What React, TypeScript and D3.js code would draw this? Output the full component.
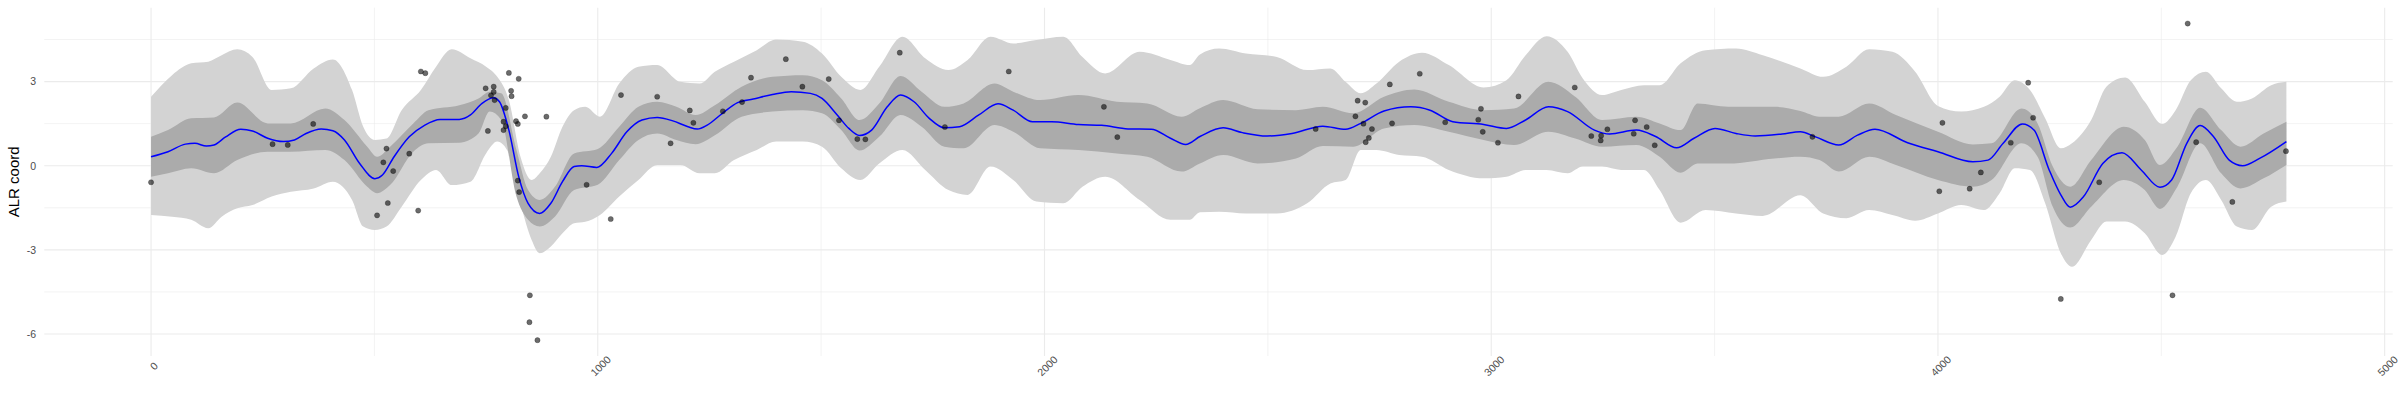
import React, { useEffect, useRef } from "react";
import * as d3 from "d3";

// observed points
const obsX = [
  0, 272, 306, 363, 506, 520, 527, 530, 542, 578, 598, 604, 614, 749, 754, 761, 767, 767, 769, 789, 789, 794,
  794, 801, 806, 807, 817, 821, 823, 821, 824, 837, 848, 847, 865, 885, 975, 1029, 1052, 1133, 1163, 1206,
  1214, 1280, 1323, 1343, 1421, 1458, 1517, 1540, 1581, 1599, 1676, 1777, 1920, 2133, 2163, 2607, 2696,
  2701, 2718, 2714, 2733, 2726, 2719, 2773, 2778, 2840, 2897, 2977, 2971, 2981, 3015, 3061, 3187, 3224,
  3245, 3246, 3260, 3319, 3322, 3348, 3366, 3719, 4010, 4003, 4071, 4096, 4163, 4202, 4213, 4275, 4361,
  4525, 4559, 4578, 4659, 4779,
];
const obsY = [
  -0.59, 0.77, 0.74, 1.49, -1.77, 0.12, 0.61, -1.33, -0.19, 0.43, -1.6, 3.36, 3.3, 2.76, 1.24, 2.51, 2.82,
  2.63, 2.34, 1.57, 1.27, 1.41, 2.06, 3.31, 2.67, 2.48, 1.59, 1.49, 3.1, -0.53, -0.94, 1.76, -4.62, -5.58,
  -6.22, 1.75, -0.68, -1.9, 2.52, 2.46, 0.8, 1.97, 1.53, 1.94, 2.27, 3.14, 3.8, 2.82, 3.09, 1.62, 0.95, 0.94,
  4.03, 1.38, 3.36, 2.1, 1.02, 1.31, 1.76, 2.32, 2.25, 1.5, 1.31, 0.99, 0.84, 2.9, 1.51, 3.28, 1.55, 2.03,
  1.64, 1.21, 0.82, 2.47, 2.79, 1.06, 0.9, 1.07, 1.3, 1.14, 1.62, 1.38, 0.73, 1.03, 1.53, -0.91, -0.82,
  -0.24, 0.82, 2.96, 1.71, -4.75, -0.59, -4.62, 5.07, 0.84, -1.29, 0.52,
];

// posterior mean
const meanX = [
  0, 38, 77, 98, 124, 141, 167, 201, 227, 261, 296, 321, 347, 381, 407, 433, 467, 501, 518, 544, 578, 613,
  647, 690, 715, 741, 767, 780, 801, 823, 844, 870, 895, 921, 947, 964, 998, 1031, 1065, 1099, 1133, 1168,
  1202, 1223, 1245, 1279, 1313, 1348, 1391, 1433, 1476, 1502, 1536, 1562, 1586, 1613, 1648, 1678, 1708,
  1742, 1776, 1810, 1853, 1896, 1930, 1973, 2016, 2076, 2128, 2187, 2239, 2282, 2316, 2349, 2400, 2443,
  2498, 2554, 2623, 2674, 2708, 2760, 2820, 2863, 2914, 2983, 3034, 3077, 3128, 3171, 3231, 3265, 3325,
  3368, 3415, 3454, 3501, 3548, 3591, 3651, 3692, 3726, 3778, 3820, 3859, 3932, 4000, 4078, 4112, 4146,
  4189, 4215, 4249, 4275, 4296, 4326, 4369, 4412, 4455, 4497, 4523, 4557, 4587, 4617, 4652, 4682, 4720,
  4780,
];
const meanY = [
  0.32, 0.5, 0.77, 0.8, 0.7, 0.74, 1.03, 1.3, 1.24, 0.98, 0.86, 0.92, 1.15, 1.31, 1.25, 0.92, 0.08, -0.46,
  -0.33, 0.32, 1.03, 1.45, 1.65, 1.65, 1.81, 2.22, 2.42, 2.28, 1.27, -0.39, -1.34, -1.7, -1.34, -0.57,
  -0.03, 0.0, -0.06, 0.44, 1.21, 1.63, 1.72, 1.6, 1.39, 1.31, 1.45, 1.87, 2.25, 2.38, 2.54, 2.64, 2.58,
  2.4, 1.81, 1.33, 1.08, 1.27, 2.1, 2.52, 2.28, 1.69, 1.35, 1.39, 1.81, 2.21, 1.98, 1.57, 1.57, 1.47, 1.44,
  1.31, 1.3, 0.98, 0.76, 1.05, 1.35, 1.18, 1.06, 1.15, 1.41, 1.3, 1.51, 1.95, 2.1, 1.98, 1.57, 1.47, 1.33,
  1.63, 2.1, 1.93, 1.27, 1.13, 1.27, 1.04, 0.64, 0.98, 1.33, 1.15, 1.06, 1.13, 1.21, 1.03, 0.74, 1.09, 1.3,
  0.82, 0.5, 0.14, 0.2, 0.8, 1.49, 1.27, -0.15, -1.04, -1.48, -1.1, 0.08, 0.46, -0.15, -0.77, -0.51, 0.8,
  1.43, 1.03, 0.2, 0.0, 0.26, 0.86,
];

// inner interval
const innerX = [
  0, 38, 90, 141, 193, 261, 313, 390, 433, 484, 506, 535, 587, 621, 690, 733, 758, 784, 818, 844, 870, 904,
  947, 1000, 1048, 1091, 1133, 1176, 1219, 1262, 1322, 1391, 1459, 1502, 1545, 1586, 1630, 1678, 1725,
  1776, 1819, 1888, 1930, 1990, 2076, 2162, 2230, 2307, 2348, 2400, 2477, 2563, 2623, 2691, 2760, 2828,
  2905, 2983, 3051, 3128, 3188, 3248, 3325, 3377, 3424, 3462, 3531, 3634, 3692, 3735, 3778, 3846, 3906,
  4000, 4078, 4120, 4187, 4223, 4257, 4296, 4343, 4416, 4463, 4497, 4536, 4587, 4634, 4677, 4729, 4780,
];
const innerLo = [
  -0.39, -0.27, -0.09, -0.27, 0.2, 0.5, 0.5, 0.56, 0.2, -0.75, -0.98, -0.69, 0.5, 0.8, 0.82, 1.15, 1.93,
  1.63, -1.1, -1.93, -2.17, -1.82, -0.87, -0.68, 0.2, 0.92, 1.15, 0.92, 0.77, 1.09, 1.75, 1.93, 1.98, 1.87,
  1.27, 0.54, 1.03, 1.81, 1.39, 0.68, 0.62, 1.45, 1.21, 0.62, 0.56, 0.44, 0.32, -0.21, 0.08, 0.38, 0.08,
  0.26, 0.7, 0.68, 1.33, 1.45, 1.21, 0.92, 0.74, 1.21, 0.97, 0.68, 0.74, 0.32, -0.25, 0.08, 0.08, 0.26,
  0.32, 0.2, -0.21, 0.32, 0.03, -0.51, -0.75, -0.51, 0.8, 0.32, -1.46, -2.2, -1.46, -0.51, -0.87, -1.54,
  -0.75, 0.8, -0.27, -0.81, -0.45, 0.03,
];
const innerHi = [
  1.03, 1.27, 1.69, 1.72, 2.25, 1.51, 1.51, 2.04, 1.63, 0.68, 0.32, 0.68, 1.51, 1.98, 2.16, 2.4, 2.64, 2.58,
  0.56, -0.87, -1.22, -0.75, 0.44, 0.6, 1.39, 2.1, 2.28, 2.1, 1.81, 2.16, 2.82, 3.17, 3.23, 3.05, 2.4, 1.63,
  2.22, 3.2, 2.64, 2.1, 2.22, 2.93, 2.64, 2.34, 2.52, 2.28, 2.22, 1.75, 2.05, 2.34, 2.01, 1.98, 2.1, 1.87,
  2.46, 2.72, 2.28, 1.98, 2.04, 2.99, 2.46, 1.63, 1.75, 1.51, 1.27, 2.22, 2.1, 2.1, 1.95, 1.75, 1.75, 2.22,
  1.81, 1.21, 0.76, 0.8, 2.04, 1.51, -0.03, -0.75, 0.2, 1.39, 0.92, 0.03, 0.68, 2.07, 1.27, 0.68, 1.15,
  1.57,
];

// outer interval
const outerX = [
  0, 47, 90, 128, 158, 193, 227, 270, 313, 364, 407, 450, 475, 501, 527, 561, 604, 638, 673, 715, 750, 775,
  801, 827, 852, 870, 895, 921, 947, 972, 1005, 1048, 1091, 1133, 1185, 1228, 1262, 1305, 1356, 1399, 1459,
  1502, 1545, 1588, 1630, 1682, 1733, 1785, 1828, 1879, 1930, 1982, 2042, 2085, 2136, 2213, 2282, 2325,
  2348, 2391, 2451, 2520, 2588, 2640, 2674, 2708, 2743, 2794, 2845, 2905, 2983, 3034, 3077, 3124, 3171,
  3205, 3248, 3291, 3342, 3377, 3424, 3480, 3548, 3608, 3692, 3743, 3795, 3846, 3898, 3949, 4000, 4052,
  4103, 4138, 4172, 4206, 4240, 4275, 4300, 4343, 4377, 4419, 4463, 4502, 4532, 4566, 4600, 4634, 4669,
  4703, 4746, 4780,
];
const outerLo = [
  -1.76, -1.82, -1.93, -2.23, -1.82, -1.52, -1.4, -1.1, -0.93, -0.81, -0.57, -1.22, -2.17, -2.29, -2.17,
  -1.46, -0.51, -0.15, -0.69, -0.57, 0.44, 0.86, 0.44, -1.34, -2.65, -3.12, -2.88, -2.41, -2.05, -2.0,
  -1.76, -1.1, -0.51, 0.03, 0.03, -0.27, -0.27, 0.2, 0.56, 0.86, 0.86, 0.68, -0.09, -0.51, 0.08, 0.56,
  -0.15, -0.87, -1.04, -0.03, -0.51, -1.28, -1.34, -0.75, -0.39, -1.22, -1.93, -1.93, -1.66, -1.64, -1.7,
  -1.7, -1.34, -0.63, -0.51, 0.56, 0.56, 0.38, 0.32, -0.15, -0.45, -0.39, -0.15, -0.15, -0.27, -0.03,
  -0.03, -0.15, -0.15, -0.87, -2.03, -1.58, -1.7, -1.79, -1.05, -1.7, -1.87, -1.58, -1.76, -1.96, -1.7,
  -1.4, -1.58, -0.98, -0.09, -0.15, -1.34, -3.12, -3.6, -2.65, -1.99, -1.99, -2.41, -3.18, -2.53, -0.98,
  -0.51, -1.22, -2.17, -2.29, -1.46, -1.28,
];
const outerHi = [
  2.46, 3.23, 3.65, 3.71, 3.94, 4.15, 3.88, 2.7, 2.76, 3.47, 3.79, 2.7, 1.39, 0.92, 0.97, 1.98, 2.7, 3.53,
  4.15, 3.83, 3.53, 3.17, 2.34, 0.32, -0.51, -0.27, 0.32, 1.39, 1.98, 2.1, 1.75, 2.93, 3.53, 3.59, 2.99,
  2.93, 3.35, 3.71, 4.12, 4.5, 4.42, 4.0, 3.17, 2.7, 3.53, 4.6, 3.83, 3.41, 3.77, 4.6, 4.36, 4.48, 4.6,
  3.88, 3.29, 4.06, 3.77, 3.59, 3.97, 4.18, 4.0, 3.88, 3.41, 3.47, 2.99, 2.58, 2.93, 3.71, 4.03, 3.59,
  2.79, 3.05, 3.94, 4.62, 4.06, 3.11, 2.52, 2.7, 2.87, 2.87, 3.65, 4.12, 4.18, 3.94, 3.47, 3.17, 3.53,
  4.15, 4.06, 3.35, 2.13, 1.93, 2.1, 2.46, 3.05, 2.7, 1.69, 0.62, 0.8, 1.63, 2.82, 3.15, 2.28, 1.49, 1.98,
  3.05, 3.35, 2.76, 2.28, 2.4, 2.87, 2.99,
];

const xMajor = [0, 1000, 2000, 3000, 4000, 5000];
const xMinor = [500, 1500, 2500, 3500, 4500];
const yMajor = [-6, -3, 0, 3];
const yMinor = [-4.5, -1.5, 1.5, 4.5];
const yTitle = "ALR coord";

const App = () => {
  const svgRef = useRef(null);

  useEffect(() => {
    document.body.style.margin = "0";
    const svg = d3.select(svgRef.current);
    svg.selectAll("*").remove();

    const width = 2400,
      height = 400;
    const margin = { top: 7.7, right: 7.3, bottom: 44, left: 44.3 };
    const font = "'Liberation Sans', Arial, Helvetica, sans-serif";

    // ggplot style 5% expansion
    const xExt: any = d3.extent(obsX);
    const yExt: any = d3.extent(obsY);
    const xPad = (xExt[1] - xExt[0]) * 0.05;
    const yPad = (yExt[1] - yExt[0]) * 0.05;

    const x = d3
      .scaleLinear()
      .domain([xExt[0] - xPad, xExt[1] + xPad])
      .range([margin.left, width - margin.right]);
    const y = d3
      .scaleLinear()
      .domain([yExt[0] - yPad, yExt[1] + yPad])
      .range([height - margin.bottom, margin.top]);

    const top = margin.top,
      bottom = height - margin.bottom;

    // grid
    const grid = svg.append("g");
    grid
      .selectAll("line.ymin")
      .data(yMinor)
      .join("line")
      .attr("x1", margin.left)
      .attr("x2", width - margin.right)
      .attr("y1", (d) => y(d))
      .attr("y2", (d) => y(d))
      .style("stroke", "#EBEBEB")
      .style("stroke-width", 0.6);
    grid
      .selectAll("line.xmin")
      .data(xMinor)
      .join("line")
      .attr("x1", (d) => x(d))
      .attr("x2", (d) => x(d))
      .attr("y1", top)
      .attr("y2", bottom)
      .style("stroke", "#EBEBEB")
      .style("stroke-width", 0.6);
    grid
      .selectAll("line.ymaj")
      .data(yMajor)
      .join("line")
      .attr("x1", margin.left)
      .attr("x2", width - margin.right)
      .attr("y1", (d) => y(d))
      .attr("y2", (d) => y(d))
      .style("stroke", "#EBEBEB")
      .style("stroke-width", 1.1);
    grid
      .selectAll("line.xmaj")
      .data(xMajor)
      .join("line")
      .attr("x1", (d) => x(d))
      .attr("x2", (d) => x(d))
      .attr("y1", top)
      .attr("y2", bottom)
      .style("stroke", "#EBEBEB")
      .style("stroke-width", 1.1);

    // bands
    const outerArea: any = d3
      .area()
      .x((d: any) => x(d[0]))
      .y0((d: any) => y(d[1]))
      .y1((d: any) => y(d[2]))
      .curve(d3.curveMonotoneX);
    svg
      .append("path")
      .datum(outerX.map((v, i) => [v, outerLo[i], outerHi[i]]))
      .attr("d", outerArea)
      .style("fill", "#D3D3D3");
    svg
      .append("path")
      .datum(innerX.map((v, i) => [v, innerLo[i], innerHi[i]]))
      .attr("d", outerArea)
      .style("fill", "#ABABAB");

    // mean line
    const line: any = d3
      .line()
      .x((d: any) => x(d[0]))
      .y((d: any) => y(d[1]))
      .curve(d3.curveMonotoneX);
    svg
      .append("path")
      .datum(meanX.map((v, i) => [v, meanY[i]]))
      .attr("d", line)
      .style("fill", "none")
      .style("stroke", "#0000FF")
      .style("stroke-width", 1.5);

    // points
    svg
      .append("g")
      .selectAll("circle")
      .data(obsX.map((v, i) => [v, obsY[i]]))
      .join("circle")
      .attr("cx", (d) => x(d[0]))
      .attr("cy", (d) => y(d[1]))
      .attr("r", 2.6)
      .style("fill", "#000")
      .style("fill-opacity", 0.58)
      .style("stroke", "#000")
      .style("stroke-opacity", 0.3)
      .style("stroke-width", 0.8);

    // y tick labels
    svg
      .append("g")
      .selectAll("text")
      .data(yMajor)
      .join("text")
      .attr("x", 36)
      .attr("y", (d) => y(d))
      .attr("dy", "0.36em")
      .style("text-anchor", "end")
      .style("font-family", font)
      .style("font-size", "10.5px")
      .style("fill", "#4D4D4D")
      .text((d) => String(d));

    // x tick labels, rotated 45
    svg
      .append("g")
      .selectAll("text")
      .data(xMajor)
      .join("text")
      .attr("transform", (d) => "translate(" + x(d) + "," + (bottom + 7) + ") rotate(-45)")
      .attr("dy", "0.75em")
      .style("text-anchor", "middle")
      .style("font-family", font)
      .style("font-size", "10.5px")
      .style("fill", "#4D4D4D")
      .text((d) => String(d));

    // axis title
    svg
      .append("text")
      .attr("transform", "translate(19," + (top + bottom) / 2 + ") rotate(-90)")
      .style("text-anchor", "middle")
      .style("font-family", font)
      .style("font-size", "15px")
      .style("fill", "#000")
      .text(yTitle);
  }, []);

  return (
    <div style={{ width: 2400, height: 400 }}>
      <svg ref={svgRef} width={2400} height={400} style={{ display: "block", background: "#fff" }}></svg>
    </div>
  );
};

export default App;
